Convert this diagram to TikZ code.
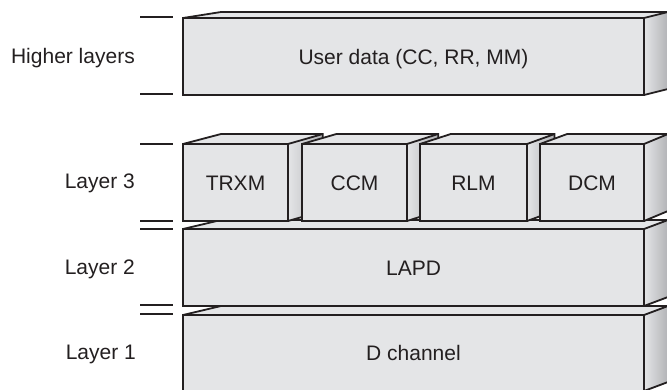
\documentclass[tikz,border=0pt]{standalone}
\usepackage{fontspec}
\setmainfont{Liberation Sans}
\definecolor{ink}{HTML}{231F20}
\definecolor{facegray}{HTML}{E4E5E7}
\definecolor{sidegray}{HTML}{B2B3B6}
\tikzset{
  edge/.style={draw=ink, line width=1.8pt, line join=miter},
  front/.style={edge, fill=facegray, inner sep=0pt, text=ink, text height=15pt, text depth=0pt,
    font=\fontsize{21}{25}\selectfont},
  topface/.style={fill=facegray},
  sideface/.style={left color=facegray, right color=sidegray},
  tick/.style={draw=ink, line width=1.8pt},
  layerlabel/.style={anchor=east, inner sep=0pt, text=ink, text height=15pt, text depth=0pt,
    font=\fontsize{21}{25}\selectfont},
}
% #1 name, #2 left, #3 top, #4 right, #5 bottom, #6 depth, #7 text
\newcommand{\slab}[7]{
  \pgfmathsetmacro{\ax}{#2+38-14*(#2-183)/461}
  \pgfmathsetmacro{\bx}{#4+38-14*(#4-183)/461}
  \fill[topface] (#2,#3) -- (\ax,#3-#6) -- (\bx,#3-#6) -- (#4,#3) -- cycle;
  \shade[sideface] (#4,#3) -- (\bx,#3-#6) -- (\bx,#5-#6) -- (#4,#5) -- cycle;
  \draw[edge] (#2,#3) -- (\ax,#3-#6) -- (\bx,#3-#6) -- (\bx,#5-#6) -- (#4,#5);
  \draw[edge] (#4,#3) -- (\bx,#3-#6);
  \node[front, minimum width={#4-#2}, minimum height={#5-#3}] (#1)
    at ({(#2+#4)/2},{(#3+#5)/2}) {#7};
}
\begin{document}
\begin{tikzpicture}[x=1pt, y=-1pt]
  \clip (0,0) rectangle (667,389);

  \slab{dchan}{183}{315}{644}{391}{9}{D channel}
  \slab{lapd}{183}{229}{644}{306}{9}{LAPD}
  \slab{trxm}{183}{144}{288}{221}{10}{TRXM}
  \slab{ccm}{302}{144}{407}{221}{10}{CCM}
  \slab{rlm}{420}{144}{527}{221}{10}{RLM}
  \slab{dcm}{540}{144}{644}{221}{10}{DCM}
  \slab{user}{183}{18}{644}{95}{6}{User data (CC, RR, MM)}

  \foreach \y in {17, 94, 144, 221, 229, 305, 314}
    \draw[tick] (140,\y) -- (173,\y);

  \node[layerlabel] (higher) at (135,56) {Higher layers};
  \node[layerlabel] (layer3) at (135,181) {Layer 3};
  \node[layerlabel] (layer2) at (135,267) {Layer 2};
  \node[layerlabel] (layer1) at (136,352) {Layer 1};
\end{tikzpicture}
\end{document}
